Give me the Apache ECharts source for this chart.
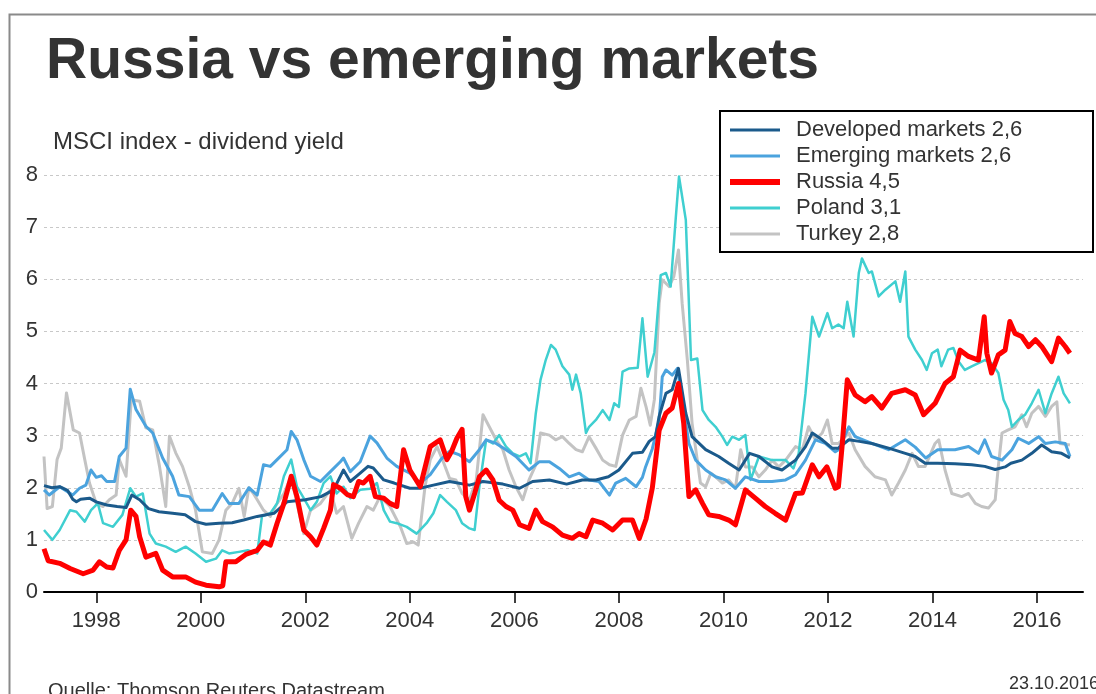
<!DOCTYPE html>
<html>
<head>
<meta charset="utf-8">
<script src="https://cdn.jsdelivr.net/npm/echarts@6/dist/echarts.min.js"></script>
<style>
html,body{margin:0;padding:0;background:#fff;}
#c{width:1096px;height:694px;}
</style>
</head>
<body>
<div id="c"></div>
<script>
const seriesNames = ['Developed markets 2,6','Emerging markets 2,6','Russia 4,5','Poland 3,1','Turkey 2,8'];
const yearTicks = [1998,2000,2002,2004,2006,2008,2010,2012,2014,2016];

const developed = [[1997.0,2.04],[1997.15,2.0],[1997.3,2.02],[1997.45,1.95],[1997.55,1.78],[1997.62,1.73],[1997.7,1.78],[1997.87,1.8],[1998.0,1.73],[1998.2,1.67],[1998.4,1.64],[1998.57,1.62],[1998.68,1.86],[1998.83,1.77],[1999.0,1.6],[1999.2,1.54],[1999.46,1.51],[1999.7,1.48],[1999.9,1.35],[2000.1,1.3],[2000.35,1.32],[2000.6,1.33],[2000.82,1.38],[2001.08,1.45],[2001.4,1.51],[2001.65,1.73],[2002.0,1.77],[2002.3,1.83],[2002.54,1.96],[2002.73,2.34],[2002.86,2.12],[2003.05,2.28],[2003.2,2.41],[2003.3,2.38],[2003.5,2.15],[2003.7,2.09],[2004.0,1.99],[2004.2,1.99],[2004.45,2.05],[2004.76,2.12],[2005.14,2.05],[2005.4,2.12],[2005.78,2.07],[2006.1,1.99],[2006.35,2.12],[2006.67,2.15],[2007.0,2.07],[2007.3,2.15],[2007.56,2.15],[2007.8,2.21],[2008.0,2.34],[2008.26,2.66],[2008.45,2.68],[2008.58,2.89],[2008.7,2.98],[2008.77,3.37],[2008.9,3.81],[2009.02,3.88],[2009.14,4.29],[2009.28,3.43],[2009.4,2.98],[2009.66,2.73],[2009.91,2.6],[2010.1,2.47],[2010.3,2.34],[2010.5,2.66],[2010.68,2.6],[2010.93,2.4],[2011.12,2.34],[2011.38,2.53],[2011.57,2.79],[2011.7,3.05],[2011.89,2.92],[2012.08,2.76],[2012.2,2.76],[2012.4,2.92],[2012.6,2.89],[2012.84,2.85],[2013.16,2.76],[2013.48,2.66],[2013.67,2.6],[2013.86,2.47],[2014.1,2.47],[2014.43,2.46],[2014.75,2.44],[2015.0,2.41],[2015.2,2.35],[2015.39,2.4],[2015.5,2.47],[2015.71,2.53],[2015.9,2.66],[2016.09,2.82],[2016.28,2.69],[2016.47,2.66],[2016.63,2.57]];

const emerging = [[1997.0,1.96],[1997.1,1.86],[1997.3,2.02],[1997.55,1.86],[1997.68,1.99],[1997.8,2.05],[1997.9,2.34],[1998.0,2.2],[1998.1,2.23],[1998.2,2.12],[1998.35,2.12],[1998.44,2.6],[1998.57,2.76],[1998.65,3.89],[1998.76,3.5],[1998.95,3.18],[1999.08,3.05],[1999.27,2.57],[1999.46,2.22],[1999.58,1.86],[1999.78,1.83],[1999.97,1.57],[2000.22,1.57],[2000.41,1.89],[2000.54,1.7],[2000.73,1.7],[2000.92,2.0],[2001.08,1.86],[2001.2,2.44],[2001.33,2.41],[2001.46,2.54],[2001.65,2.73],[2001.73,3.08],[2001.84,2.92],[2001.97,2.54],[2002.1,2.22],[2002.29,2.12],[2002.48,2.31],[2002.67,2.5],[2002.73,2.57],[2002.86,2.31],[2003.05,2.5],[2003.24,2.99],[2003.37,2.86],[2003.56,2.57],[2003.75,2.41],[2004.0,2.28],[2004.2,2.09],[2004.39,2.25],[2004.6,2.55],[2004.76,2.7],[2004.95,2.63],[2005.14,2.5],[2005.33,2.73],[2005.46,2.92],[2005.65,2.85],[2005.84,2.73],[2006.03,2.6],[2006.28,2.34],[2006.48,2.5],[2006.67,2.5],[2006.86,2.37],[2007.05,2.21],[2007.24,2.28],[2007.43,2.15],[2007.62,2.12],[2007.82,1.86],[2007.94,2.09],[2008.13,2.18],[2008.33,2.02],[2008.45,2.2],[2008.51,2.4],[2008.64,2.75],[2008.77,3.3],[2008.83,4.13],[2008.9,4.26],[2009.02,4.16],[2009.12,4.29],[2009.21,3.69],[2009.34,2.85],[2009.47,2.53],[2009.66,2.34],[2009.85,2.21],[2010.04,2.15],[2010.23,1.99],[2010.42,2.21],[2010.68,2.12],[2010.93,2.12],[2011.19,2.15],[2011.38,2.25],[2011.57,2.53],[2011.76,2.92],[2011.95,2.85],[2012.14,2.69],[2012.2,2.73],[2012.4,3.17],[2012.52,2.98],[2012.84,2.85],[2013.16,2.73],[2013.48,2.92],[2013.67,2.78],[2013.87,2.57],[2014.1,2.73],[2014.43,2.73],[2014.69,2.79],[2014.88,2.66],[2015.0,2.92],[2015.13,2.6],[2015.33,2.53],[2015.52,2.73],[2015.64,2.95],[2015.84,2.85],[2016.03,2.98],[2016.16,2.85],[2016.35,2.88],[2016.54,2.85],[2016.63,2.6]];

const russia = [[1997.0,0.83],[1997.08,0.6],[1997.3,0.55],[1997.5,0.45],[1997.75,0.35],[1997.94,0.42],[1998.06,0.58],[1998.2,0.48],[1998.32,0.46],[1998.44,0.8],[1998.57,1.0],[1998.66,1.57],[1998.76,1.45],[1998.83,1.06],[1998.95,0.67],[1999.14,0.74],[1999.27,0.42],[1999.46,0.29],[1999.71,0.29],[1999.9,0.19],[2000.1,0.13],[2000.35,0.1],[2000.42,0.12],[2000.48,0.58],[2000.67,0.58],[2000.86,0.72],[2001.08,0.8],[2001.2,0.96],[2001.33,0.9],[2001.46,1.32],[2001.59,1.7],[2001.73,2.22],[2001.84,1.83],[2001.97,1.19],[2002.1,1.06],[2002.22,0.9],[2002.35,1.22],[2002.48,1.57],[2002.54,2.06],[2002.67,1.99],[2002.8,1.87],[2002.92,1.83],[2003.02,2.12],[2003.11,2.09],[2003.24,2.22],[2003.34,1.83],[2003.5,1.8],[2003.62,1.7],[2003.75,1.64],[2003.88,2.73],[2004.0,2.34],[2004.2,2.02],[2004.39,2.79],[2004.58,2.92],[2004.71,2.54],[2004.8,2.7],[2004.9,2.95],[2005.0,3.12],[2005.07,1.83],[2005.14,1.57],[2005.24,1.89],[2005.33,2.21],[2005.46,2.34],[2005.59,2.15],[2005.71,1.76],[2005.84,1.64],[2005.97,1.57],[2006.1,1.29],[2006.28,1.22],[2006.41,1.57],[2006.54,1.35],[2006.73,1.25],[2006.92,1.09],[2007.11,1.03],[2007.24,1.12],[2007.37,1.06],[2007.5,1.38],[2007.69,1.32],[2007.88,1.19],[2008.07,1.38],[2008.26,1.38],[2008.39,1.03],[2008.52,1.4],[2008.64,2.0],[2008.77,3.1],[2008.9,3.43],[2009.02,3.53],[2009.14,4.0],[2009.24,3.24],[2009.34,1.83],[2009.47,1.96],[2009.6,1.7],[2009.72,1.48],[2009.91,1.45],[2010.1,1.38],[2010.23,1.29],[2010.42,1.96],[2010.61,1.8],[2010.8,1.64],[2010.99,1.51],[2011.19,1.38],[2011.38,1.89],[2011.51,1.9],[2011.7,2.44],[2011.83,2.21],[2011.98,2.4],[2012.14,1.99],[2012.2,2.02],[2012.27,2.79],[2012.37,4.07],[2012.52,3.78],[2012.71,3.65],[2012.84,3.75],[2013.03,3.53],[2013.22,3.81],[2013.48,3.88],[2013.67,3.78],[2013.83,3.4],[2014.05,3.62],[2014.24,4.0],[2014.4,4.13],[2014.53,4.64],[2014.69,4.52],[2014.88,4.45],[2014.99,5.28],[2015.04,4.58],[2015.13,4.2],[2015.26,4.55],[2015.39,4.64],[2015.48,5.19],[2015.58,4.96],[2015.71,4.9],[2015.84,4.71],[2015.97,4.84],[2016.09,4.71],[2016.28,4.42],[2016.41,4.87],[2016.54,4.71],[2016.63,4.58]];

const poland = [[1997.0,1.19],[1997.16,1.0],[1997.3,1.19],[1997.5,1.57],[1997.62,1.54],[1997.78,1.35],[1997.9,1.57],[1998.03,1.7],[1998.13,1.32],[1998.32,1.25],[1998.5,1.48],[1998.65,1.99],[1998.76,1.83],[1998.89,1.89],[1999.02,1.12],[1999.14,0.93],[1999.33,0.87],[1999.52,0.77],[1999.71,0.87],[1999.9,0.74],[2000.1,0.58],[2000.29,0.64],[2000.41,0.8],[2000.54,0.74],[2000.73,0.77],[2000.9,0.8],[2001.08,0.74],[2001.17,1.45],[2001.33,1.51],[2001.46,1.7],[2001.59,2.22],[2001.73,2.54],[2001.84,2.02],[2001.97,1.8],[2002.1,1.57],[2002.22,1.73],[2002.35,2.09],[2002.48,2.22],[2002.6,1.89],[2002.73,2.02],[2002.86,1.8],[2003.05,1.96],[2003.24,1.98],[2003.37,2.09],[2003.5,1.57],[2003.62,1.35],[2003.75,1.32],[2003.94,1.25],[2004.13,1.12],[2004.32,1.32],[2004.45,1.51],[2004.58,1.86],[2004.71,1.73],[2004.88,1.57],[2005.0,1.32],[2005.14,1.22],[2005.24,1.19],[2005.33,2.02],[2005.46,2.92],[2005.59,2.85],[2005.71,3.01],[2005.84,2.79],[2005.97,2.66],[2006.1,2.6],[2006.22,2.66],[2006.31,2.47],[2006.41,3.43],[2006.5,4.07],[2006.6,4.45],[2006.7,4.74],[2006.79,4.65],[2006.92,4.33],[2007.05,4.17],[2007.11,3.88],[2007.18,4.17],[2007.27,3.81],[2007.37,3.05],[2007.43,3.17],[2007.56,3.3],[2007.69,3.49],[2007.82,3.3],[2007.91,3.62],[2008.0,3.55],[2008.07,4.23],[2008.2,4.29],[2008.36,4.3],[2008.45,5.25],[2008.55,4.13],[2008.68,4.6],[2008.8,6.08],[2008.9,6.12],[2008.99,5.86],[2009.09,7.2],[2009.15,7.97],[2009.28,7.14],[2009.38,4.45],[2009.5,4.48],[2009.6,3.49],[2009.72,3.3],[2009.85,3.17],[2009.98,2.98],[2010.07,2.82],[2010.17,2.98],[2010.3,2.92],[2010.42,3.01],[2010.52,2.15],[2010.68,2.6],[2010.93,2.53],[2011.19,2.53],[2011.34,2.37],[2011.44,2.66],[2011.57,3.81],[2011.7,5.28],[2011.83,4.9],[2011.99,5.35],[2012.08,5.06],[2012.2,5.13],[2012.3,5.06],[2012.37,5.57],[2012.49,4.9],[2012.59,6.12],[2012.65,6.4],[2012.78,6.12],[2012.84,6.15],[2012.97,5.67],[2013.1,5.8],[2013.29,5.96],[2013.38,5.57],[2013.48,6.15],[2013.54,4.9],[2013.67,4.65],[2013.8,4.45],[2013.89,4.26],[2013.99,4.58],[2014.1,4.65],[2014.17,4.33],[2014.3,4.65],[2014.4,4.68],[2014.5,4.42],[2014.62,4.26],[2014.75,4.33],[2014.88,4.39],[2015.0,4.45],[2015.13,4.39],[2015.26,4.2],[2015.36,3.69],[2015.45,3.49],[2015.52,3.17],[2015.64,3.3],[2015.77,3.4],[2015.9,3.62],[2016.03,3.88],[2016.16,3.43],[2016.28,3.81],[2016.41,4.13],[2016.51,3.81],[2016.63,3.62]];

const turkey = [[1997.0,2.6],[1997.06,1.6],[1997.16,1.64],[1997.25,2.54],[1997.33,2.76],[1997.43,3.82],[1997.56,3.11],[1997.68,3.05],[1997.78,2.54],[1997.87,2.09],[1998.0,1.7],[1998.13,1.64],[1998.25,1.77],[1998.38,1.86],[1998.44,2.54],[1998.57,2.22],[1998.67,3.69],[1998.83,3.66],[1998.95,3.15],[1999.08,3.11],[1999.21,2.41],[1999.33,1.64],[1999.4,2.99],[1999.52,2.67],[1999.65,2.41],[1999.78,2.02],[1999.9,1.57],[2000.03,0.77],[2000.22,0.74],[2000.35,1.0],[2000.48,1.57],[2000.6,1.7],[2000.73,1.99],[2000.83,1.45],[2000.92,2.0],[2001.0,1.9],[2001.08,1.77],[2001.2,1.57],[2001.33,1.45],[2001.46,1.7],[2001.59,1.89],[2001.73,2.22],[2001.84,1.7],[2001.97,1.12],[2002.1,1.57],[2002.29,1.7],[2002.48,1.96],[2002.6,1.51],[2002.73,1.64],[2002.89,1.03],[2003.02,1.32],[2003.18,1.64],[2003.3,1.57],[2003.43,1.83],[2003.62,1.64],[2003.82,1.25],[2003.94,0.93],[2004.07,0.96],[2004.16,0.9],[2004.29,2.02],[2004.39,2.54],[2004.52,2.79],[2004.64,2.5],[2004.76,2.18],[2004.88,2.15],[2005.0,1.89],[2005.14,1.77],[2005.27,2.15],[2005.4,3.4],[2005.52,3.17],[2005.65,2.92],[2005.78,2.73],[2005.9,2.34],[2006.03,2.02],[2006.16,1.77],[2006.28,2.15],[2006.41,2.44],[2006.5,3.05],[2006.67,3.01],[2006.79,2.92],[2006.92,2.98],[2007.05,2.85],[2007.18,2.73],[2007.3,2.69],[2007.43,2.98],[2007.56,2.76],[2007.69,2.53],[2007.82,2.44],[2007.94,2.41],[2008.07,3.01],[2008.2,3.3],[2008.33,3.37],[2008.42,3.91],[2008.52,3.55],[2008.6,3.2],[2008.68,3.7],[2008.77,5.54],[2008.83,5.99],[2008.96,5.86],[2009.05,6.05],[2009.14,6.56],[2009.21,5.54],[2009.31,4.45],[2009.4,3.24],[2009.5,2.53],[2009.56,2.09],[2009.66,2.02],[2009.76,2.28],[2009.85,2.21],[2009.98,2.09],[2010.1,2.15],[2010.23,1.99],[2010.33,2.73],[2010.42,2.4],[2010.55,2.4],[2010.68,2.21],[2010.8,2.34],[2010.93,2.53],[2011.06,2.4],[2011.19,2.53],[2011.38,2.79],[2011.51,2.73],[2011.63,3.17],[2011.76,2.92],[2011.89,3.05],[2011.99,3.3],[2012.08,2.85],[2012.2,2.85],[2012.4,3.05],[2012.52,2.73],[2012.71,2.41],[2012.9,2.21],[2013.1,2.15],[2013.22,1.86],[2013.35,2.09],[2013.48,2.34],[2013.61,2.66],[2013.73,2.41],[2013.86,2.41],[2014.05,2.85],[2014.12,2.92],[2014.24,2.34],[2014.37,1.89],[2014.56,1.83],[2014.69,1.89],[2014.82,1.7],[2014.94,1.64],[2015.07,1.61],[2015.2,1.77],[2015.26,2.41],[2015.33,3.05],[2015.45,3.11],[2015.58,3.17],[2015.71,3.4],[2015.8,3.17],[2015.9,3.43],[2016.03,3.56],[2016.16,3.37],[2016.28,3.56],[2016.38,3.65],[2016.44,2.85],[2016.63,2.82]];

const FONT = '"Liberation Sans", Arial, sans-serif';
const chart = echarts.init(document.getElementById('c'), null, {renderer:'canvas'});

const colors = {dev: '#1b5a8b', em: '#4ba3de', ru: '#ff0000', pl: '#3fcfd0', tr: '#c3c3c3'};
const thinIcon = 'path://M0,0H50V3H0Z';
const thickIcon = 'path://M0,0H50V6H0Z';

function lineSeries(name, data, color, width, z) {
  return {
    name: name, type: 'line', data: data, symbol: 'none', showSymbol: false,
    z: z, lineStyle: {color: color, width: width, join: 'round'},
    itemStyle: {color: color}, emphasis: {disabled: true}
  };
}

chart.setOption({
  animation: false,
  backgroundColor: '#fff',
  title: [
    {text: 'Russia vs emerging markets', left: 46, top: 34, padding: 0,
     textStyle: {fontFamily: FONT, fontSize: 57, fontWeight: 'bold', color: '#333'}},
    {text: 'MSCI index - dividend yield', left: 53, top: 130, padding: 0,
     textStyle: {fontFamily: FONT, fontSize: 24, fontWeight: 'normal', color: '#333'}}
  ],
  graphic: [
    {type: 'rect', left: 7, top: 12, z: -10, silent: true,
     shape: {x: 0, y: 0, width: 1200, height: 800},
     style: {fill: 'none', stroke: '#8a8a8a', lineWidth: 2}},
    {type: 'rect', z: 5, silent: true,
     shape: {x: 720, y: 111, width: 373, height: 141},
     style: {fill: '#fff', stroke: '#000', lineWidth: 2}},
    {type: 'text', x: 48, y: 681, silent: true,
     style: {text: 'Quelle: Thomson Reuters Datastream', font: '20px ' + FONT, fill: '#333'}},
    {type: 'text', x: 1009, y: 675, silent: true,
     style: {text: '23.10.2016', font: '18px ' + FONT, fill: '#333'}}
  ],
  legend: {
    orient: 'vertical', left: 730, top: 117, padding: 0, itemGap: 0,
    itemWidth: 50, itemHeight: 14, z: 10, symbolKeepAspect: true,
    data: [
      {name: seriesNames[0], icon: thinIcon},
      {name: seriesNames[1], icon: thinIcon},
      {name: seriesNames[2], icon: thickIcon},
      {name: seriesNames[3], icon: thinIcon},
      {name: seriesNames[4], icon: thinIcon}
    ],
    textStyle: {fontFamily: FONT, fontSize: 22, color: '#333', lineHeight: 26, padding: [0, 0, 0, 11]},
    selectedMode: false
  },
  grid: {left: 44, right: 13, top: 175, bottom: 102, containLabel: false},
  xAxis: {
    type: 'value', min: 1997, max: 2016.88,
    axisLine: {show: true, lineStyle: {color: '#000', width: 2}},
    axisTick: {show: true, customValues: yearTicks, length: 11, lineStyle: {color: '#000', width: 1.5}},
    axisLabel: {customValues: yearTicks, fontFamily: FONT, fontSize: 22, color: '#333', margin: 18,
                formatter: v => String(v)},
    splitLine: {show: false}
  },
  yAxis: {
    type: 'value', min: 0, max: 8, interval: 1,
    axisLine: {show: false}, axisTick: {show: false},
    axisLabel: {fontFamily: FONT, fontSize: 22, color: '#333', margin: 6},
    splitLine: {show: true, lineStyle: {color: '#c8c8c8', width: 1, type: [3, 3]}}
  },
  series: [
    lineSeries(seriesNames[4], turkey, colors.tr, 3, 2),
    lineSeries(seriesNames[3], poland, colors.pl, 2.5, 3),
    lineSeries(seriesNames[1], emerging, colors.em, 3, 4),
    lineSeries(seriesNames[0], developed, colors.dev, 3, 5),
    lineSeries(seriesNames[2], russia, colors.ru, 5, 6)
  ]
});
</script>
</body>
</html>
